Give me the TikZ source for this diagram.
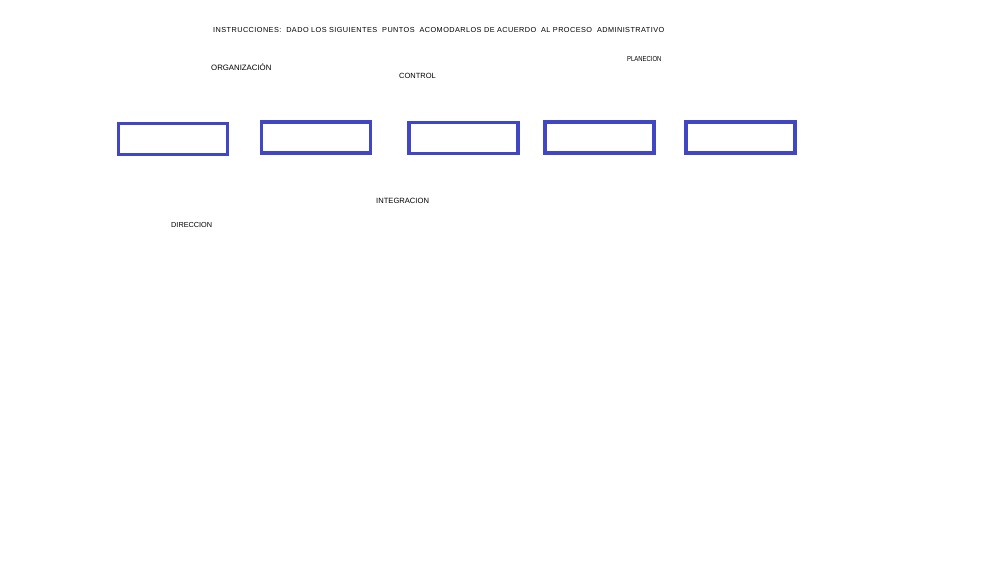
\documentclass[tikz,border=0pt]{standalone}
\usepackage{fontspec}
\setmainfont{Liberation Sans}
\definecolor{boxblue}{RGB}{64,70,196}
\tikzset{
    word/.style={anchor=west, inner sep=0pt, font=\fontsize{#1}{8}\selectfont},
    word/.default=7.3,
    slot/.style={draw=boxblue, line width=3.5pt, minimum width=109pt, minimum height=31pt, inner sep=0pt}
}
\begin{document}
\begin{tikzpicture}[x=1pt,y=-1pt]
\useasboundingbox[fill=white](0,0)rectangle(1000,562);

\node[word](title) at (213,30) {\addfontfeatures{LetterSpace=6}INSTRUCCIONES:\ \ DADO LOS SIGUIENTES\ \ PUNTOS\ \ ACOMODARLOS DE ACUERDO\ \ AL PROCESO\ \ ADMINISTRATIVO};
\node[word=7.8](org) at (211,67) {ORGANIZACIÓN};
\node[word=7.5](ctrl) at (399,76) {CONTROL};
\node[word](plan) at (627,59) {\scalebox{0.81}[1]{PLANECION}};
\node[word=7.6](integ) at (376,201) {INTEGRACION};
\node[word](dir) at (171,225) {DIRECCION};

\foreach \x/\y/\n in {173/139/1,316/137.5/2,463.7/138/3,599.3/137.5/4,740.7/137.5/5}
{
    \node[slot](box\n) at (\x,\y) {};
}
\end{tikzpicture}
\end{document}
